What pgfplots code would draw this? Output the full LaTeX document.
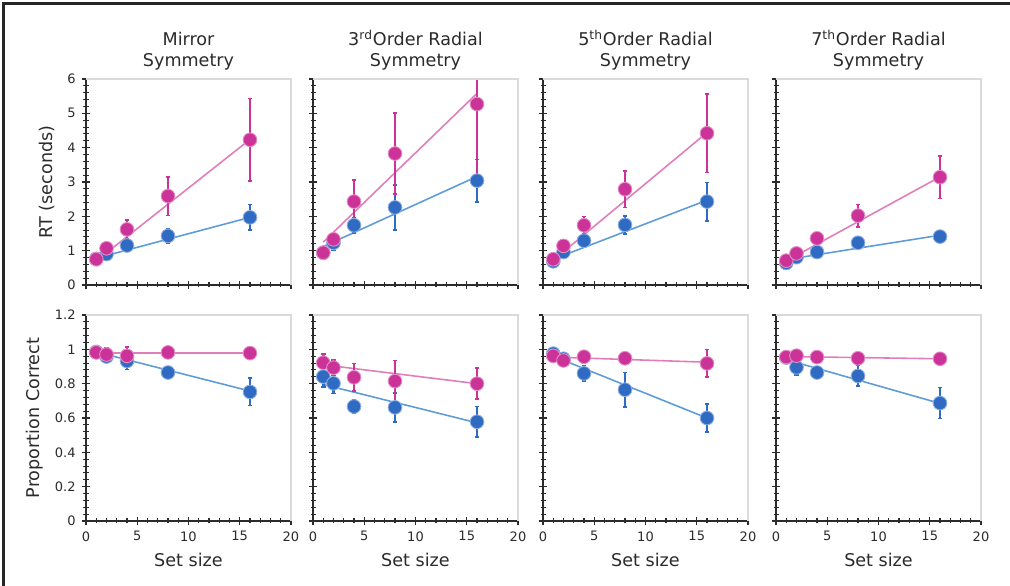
\documentclass[border=0pt]{standalone}
\usepackage{fontspec}
\setmainfont{DejaVu Sans}
\usepackage{pgfplots}
\pgfplotsset{compat=1.18}

\definecolor{ink}{HTML}{2B2B2B}
\definecolor{cPink}{HTML}{CC3399}
\definecolor{cPinkL}{HTML}{E07EBB}
\definecolor{cBlue}{HTML}{2F6BC3}
\definecolor{cBlueL}{HTML}{5E9CD8}
\definecolor{frame}{HTML}{DADADA}

\pgfplotsset{
  panel/.style={
    /pgf/number format/assume math mode=true,
    /pgfplots/scale only axis, width=4.1cm, height=4.12cm, anchor=south west,
    axis lines=left, axis line style={-, ink, line width=0.7pt},
    xmin=0, xmax=20, xtick={0,5,10,15,20}, minor x tick num=4, minor y tick num=4,
    tick align=center, major tick length=0.17cm, minor tick length=0.1cm,
    tick style={ink, line width=0.6pt},
    tick label style={font=\fontsize{7.4}{9}\selectfont, color=ink},
    label style={font=\fontsize{10}{12}\selectfont, color=ink},
    title style={font=\fontsize{10}{11.5}\selectfont, color=ink, align=center, yshift=-0.15cm},
    extra description/.code={\draw[frame, line width=0.6pt] (0,1) -- (1,1) -- (1,0);},
  },
  rt/.style={ymin=0, ymax=6, ytick={0,1,2,3,4,5,6}, xticklabels={}},
  pc/.style={ymin=0, ymax=1.2, ytick={0,0.2,0.4,0.6,0.8,1,1.2}, xlabel={Set size}},
  nolab/.style={yticklabels={}},
  pinkfit/.style={no marks, cPinkL, line width=0.9pt},
  bluefit/.style={no marks, cBlueL, line width=0.9pt},
  pinkpts/.style={only marks, mark=*, mark size=3.9pt,
    mark options={fill=cPink, draw=cPink!55!white, line width=0.5pt},
    error bars/.cd, y dir=both, y explicit,
    error bar style={cPink, line width=1.5pt},
    error mark options={rotate=90, mark size=1.4pt, cPink, line width=0.9pt}},
  bluepts/.style={only marks, mark=*, mark size=3.9pt,
    mark options={fill=cBlue, draw=cBlue!55!white, line width=0.5pt},
    error bars/.cd, y dir=both, y explicit,
    error bar style={cBlue, line width=1.5pt},
    error mark options={rotate=90, mark size=1.4pt, cBlue, line width=0.9pt}},
}

\begin{document}
\begin{tikzpicture}
\path[use as bounding box] (0,0) rectangle (20.2,11.72);
\draw[line width=1.6pt, black!85] (0.07,0) -- (0.07,11.65) -- (20.2,11.65);

% ---- top row: RT ----
\begin{axis}[panel, rt, at={(1.72cm,6.02cm)}, title={Mirror\\Symmetry}, ylabel={RT (seconds)}]
\addplot[bluefit] coordinates {(1,0.78)(16,1.97)};
\addplot[pinkfit] coordinates {(1,0.70)(16,4.24)};
\addplot[bluepts] coordinates {(1,0.76)+-(0,0.04) (2,0.90)+-(0,0.07) (4,1.15)+-(0,0.12) (8,1.43)+-(0,0.2) (16,1.97)+-(0,0.37)};
\addplot[pinkpts] coordinates {(1,0.75)+-(0,0.05) (2,1.07)+-(0,0.1) (4,1.62)+-(0,0.28) (8,2.59)+-(0,0.56) (16,4.23)+-(0,1.2)};
\end{axis}

\begin{axis}[panel, rt, nolab, at={(6.26cm,6.02cm)}, title={3\textsuperscript{rd}Order Radial\\Symmetry}]
\addplot[bluefit] coordinates {(1,1.12)(16,3.16)};
\addplot[pinkfit] coordinates {(1,1.25)(16,5.58)};
\addplot[bluepts] coordinates {(1,0.94)+-(0,0.05) (2,1.23)+-(0,0.22) (4,1.74)+-(0,0.22) (8,2.26)+-(0,0.66) (16,3.04)+-(0,0.62)};
\addplot[pinkpts] coordinates {(1,0.94)+-(0,0.05) (2,1.33)+-(0,0.12) (4,2.43)+-(0,0.62) (8,3.83)+-(0,1.18) (16,5.27)+-(0,2.3)};
\end{axis}

\begin{axis}[panel, rt, nolab, at={(10.86cm,6.02cm)}, title={5\textsuperscript{th}Order Radial\\Symmetry}]
\addplot[bluefit] coordinates {(1,0.75)(16,2.47)};
\addplot[pinkfit] coordinates {(1,0.72)(16,4.44)};
\addplot[bluepts] coordinates {(1,0.69)+-(0,0.05) (2,0.96)+-(0,0.05) (4,1.29)+-(0,0.1) (8,1.75)+-(0,0.26) (16,2.43)+-(0,0.56)};
\addplot[pinkpts] coordinates {(1,0.75)+-(0,0.05) (2,1.14)+-(0,0.06) (4,1.74)+-(0,0.25) (8,2.79)+-(0,0.53) (16,4.42)+-(0,1.14)};
\end{axis}

\begin{axis}[panel, rt, nolab, at={(15.52cm,6.02cm)}, title={7\textsuperscript{th}Order Radial\\Symmetry}]
\addplot[bluefit] coordinates {(1,0.74)(16,1.45)};
\addplot[pinkfit] coordinates {(1,0.70)(16,3.15)};
\addplot[bluepts] coordinates {(1,0.64)+-(0,0.05) (2,0.81)+-(0,0.05) (4,0.96)+-(0,0.05) (8,1.23)+-(0,0.08) (16,1.41)+-(0,0.06)};
\addplot[pinkpts] coordinates {(1,0.71)+-(0,0.05) (2,0.92)+-(0,0.05) (4,1.36)+-(0,0.06) (8,2.02)+-(0,0.33) (16,3.14)+-(0,0.62)};
\end{axis}

% ---- bottom row: proportion correct ----
\begin{axis}[panel, pc, at={(1.72cm,1.30cm)}, ylabel={Proportion Correct}]
\addplot[bluefit] coordinates {(1,0.985)(16,0.757)};
\addplot[pinkfit] coordinates {(1,0.978)(16,0.978)};
\addplot[bluepts] coordinates {(1,0.985)+-(0,0.01) (2,0.958)+-(0,0.03) (4,0.932)+-(0,0.05) (8,0.865)+-(0,0.03) (16,0.752)+-(0,0.08)};
\addplot[pinkpts] coordinates {(1,0.982)+-(0,0.01) (2,0.97)+-(0,0.04) (4,0.962)+-(0,0.05) (8,0.982)+-(0,0.01) (16,0.978)+-(0,0.02)};
\end{axis}

\begin{axis}[panel, pc, nolab, at={(6.26cm,1.30cm)}]
\addplot[bluefit] coordinates {(1,0.795)(16,0.572)};
\addplot[pinkfit] coordinates {(1,0.91)(16,0.80)};
\addplot[bluepts] coordinates {(1,0.841)+-(0,0.06) (2,0.802)+-(0,0.06) (4,0.667)+-(0,0.04) (8,0.662)+-(0,0.085) (16,0.578)+-(0,0.09)};
\addplot[pinkpts] coordinates {(1,0.922)+-(0,0.05) (2,0.893)+-(0,0.045) (4,0.837)+-(0,0.08) (8,0.815)+-(0,0.12) (16,0.80)+-(0,0.09)};
\end{axis}

\begin{axis}[panel, pc, nolab, at={(10.86cm,1.30cm)}]
\addplot[bluefit] coordinates {(1,0.96)(16,0.60)};
\addplot[pinkfit] coordinates {(1,0.955)(16,0.925)};
\addplot[bluepts] coordinates {(1,0.975)+-(0,0.02) (2,0.945)+-(0,0.02) (4,0.86)+-(0,0.045) (8,0.765)+-(0,0.1) (16,0.60)+-(0,0.08)};
\addplot[pinkpts] coordinates {(1,0.962)+-(0,0.02) (2,0.935)+-(0,0.02) (4,0.957)+-(0,0.035) (8,0.948)+-(0,0.03) (16,0.918)+-(0,0.08)};
\end{axis}

\begin{axis}[panel, pc, nolab, at={(15.52cm,1.30cm)}]
\addplot[bluefit] coordinates {(1,0.94)(16,0.685)};
\addplot[pinkfit] coordinates {(1,0.958)(16,0.945)};
\addplot[bluepts] coordinates {(1,0.952)+-(0,0.01) (2,0.895)+-(0,0.045) (4,0.865)+-(0,0.025) (8,0.845)+-(0,0.06) (16,0.687)+-(0,0.09)};
\addplot[pinkpts] coordinates {(1,0.955)+-(0,0.01) (2,0.963)+-(0,0.015) (4,0.955)+-(0,0.01) (8,0.948)+-(0,0.01) (16,0.945)+-(0,0.01)};
\end{axis}
\end{tikzpicture}
\end{document}
